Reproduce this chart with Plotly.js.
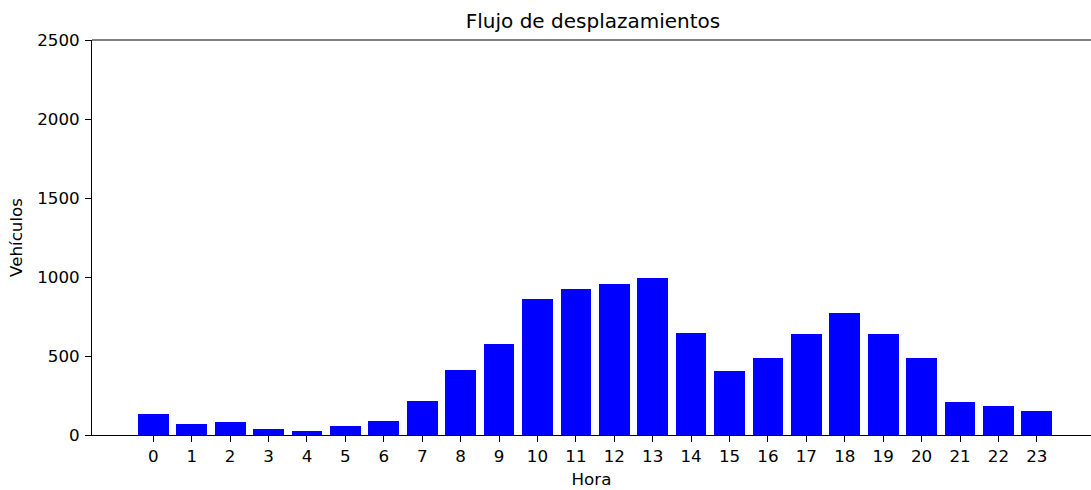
<!DOCTYPE html>
<html>
<head>
<meta charset="utf-8">
<script src="https://cdn.plot.ly/plotly-3.0.1.min.js"></script>
<style>html,body{margin:0;padding:0;overflow:hidden;background:#fff}</style>
</head>
<body>
<div id="chart" style="width:1091px;height:490px"></div>
<script>
const horas = [0,1,2,3,4,5,6,7,8,9,10,11,12,13,14,15,16,17,18,19,20,21,22,23];
const vehiculos = [135,71,80,40,25,57,88,215,411,575,860,923,955,993,647,402,489,639,773,639,489,206,183,152];
const yTicks = [0,500,1000,1500,2000,2500];

const font = {family: 'DejaVu Sans, sans-serif', color: '#000'};
Plotly.newPlot('chart', [{
  type: 'bar',
  x: horas,
  y: vehiculos,
  width: 0.8,
  marker: {color: '#0000ff', line: {width: 0}},
  hoverinfo: 'x+y'
}], {
  width: 1091, height: 490,
  margin: {l: 92, r: 0, t: 40, b: 55},
  paper_bgcolor: '#fff', plot_bgcolor: '#fff',
  showlegend: false,
  title: {text: 'Flujo de desplazamientos', font: {...font, size: 20}, x: 593/1091, xref: 'container', xanchor: 'center', y: 1 - 21/490, yref: 'container', yanchor: 'middle'},
  xaxis: {
    range: [-1.596, 24.41], tickmode: 'array', tickvals: horas, ticktext: horas.map(String),
    showgrid: false, zeroline: false, showline: true, linecolor: '#000', linewidth: 1,
    ticks: 'outside', ticklen: 6, tickcolor: '#000', tickwidth: 1,
    tickfont: {...font, size: 16.7},
    title: {text: 'Hora', font: {...font, size: 16.7}, standoff: 8}
  },
  yaxis: {
    range: [0, 2500], tickmode: 'array', tickvals: yTicks, ticktext: yTicks.map(String),
    showgrid: false, zeroline: false, showline: true, linecolor: '#000', linewidth: 1,
    ticks: 'outside', ticklen: 6, tickcolor: '#000', tickwidth: 1, ticklabelstandoff: 2,
    tickfont: {...font, size: 16.7},
    title: {text: 'Vehículos', font: {...font, size: 16.7}, standoff: 10}
  },
  shapes: [{type: 'line', xref: 'paper', yref: 'paper', x0: 0, x1: 1, y0: 1, y1: 1, line: {color: '#000', width: 1}}],
  bargap: 0
}, {displayModeBar: false, staticPlot: true});
</script>
</body>
</html>
